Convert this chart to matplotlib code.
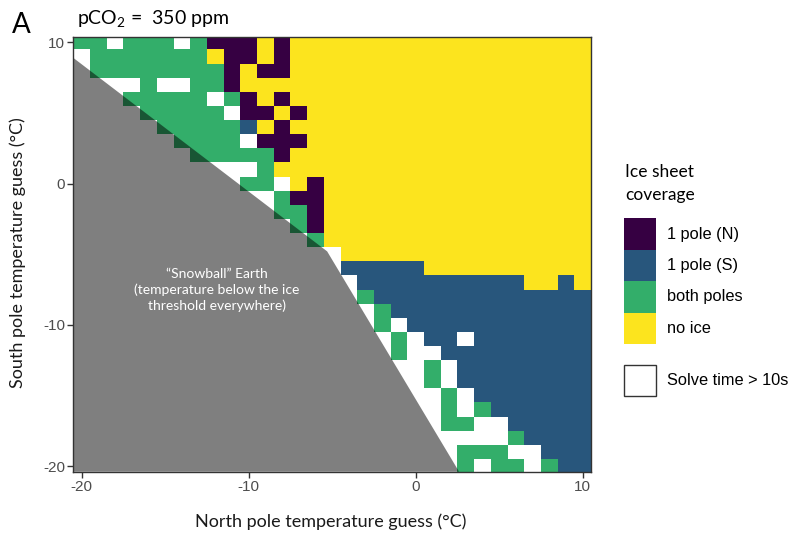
import matplotlib
matplotlib.use("Agg")
import matplotlib.pyplot as plt
import numpy as np
from matplotlib.colors import ListedColormap, BoundaryNorm
from matplotlib.patches import Rectangle

plt.rcParams['mathtext.fontset'] = 'custom'
plt.rcParams['mathtext.rm'] = 'Lato'
plt.rcParams['mathtext.default'] = 'regular'
plt.rcParams['axes.unicode_minus'] = False

# ---------------- data ----------------
north_temps = list(range(-20, 11))          # x: North pole temperature guess
south_temps = list(range(10, -21, -1))      # y: South pole temperature guess (rows, top to bottom)

# N = 1 pole (N), S = 1 pole (S), B = both poles, Y = no ice,
# W = solve time > 10s, . = no result (snowball region)
grid_rows = [
    "BBWBB BWBNN NYNYY YYYYY YYYYY YYYYY Y",  # 10
    "WBBBB BBBYN NYNYY YYYYY YYYYY YYYYY Y",  # 9
    ".BBBB BBBBN YNNYY YYYYY YYYYY YYYYY Y",  # 8
    ".WWWB WWBBN YYYYY YYYYY YYYYY YYYYY Y",  # 7
    "...BB BBBWB NYNYY YYYYY YYYYY YYYYY Y",  # 6
    "....B BBBBW NNYNY YYYYY YYYYY YYYYY Y",  # 5
    "..... BBBBB SYNYY YYYYY YYYYY YYYYY Y",  # 4
    "..... .BBBB WNNNY YYYYY YYYYY YYYYY Y",  # 3
    "..... ..BBB BBNYY YYYYY YYYYY YYYYY Y",  # 2
    "..... ...WW WBYYY YYYYY YYYYY YYYYY Y",  # 1
    "..... ....W BBWYN YYYYY YYYYY YYYYY Y",  # 0
    "..... ..... WWBNN YYYYY YYYYY YYYYY Y",  # -1
    "..... ..... ..BBN YYYYY YYYYY YYYYY Y",  # -2
    "..... ..... ...BN YYYYY YYYYY YYYYY Y",  # -3
    "..... ..... ....B YYYYY YYYYY YYYYY Y",  # -4
    "..... ..... ..... WYYYY YYYYY YYYYY Y",  # -5
    "..... ..... ..... WSSSS SYYYY YYYYY Y",  # -6
    "..... ..... ..... .WSSS SSSSS SSYYS Y",  # -7
    "..... ..... ..... .WBSS SSSSS SSSSS S",  # -8
    "..... ..... ..... ..WBS SSSSS SSSSS S",  # -9
    "..... ..... ..... ..WBW SSSSS SSSSS S",  # -10
    "..... ..... ..... ...WB WSSWS SSSSS S",  # -11
    "..... ..... ..... ...WB WWSSS SSSSS S",  # -12
    "..... ..... ..... ....W WBWSS SSSSS S",  # -13
    "..... ..... ..... ..... WBWSS SSSSS S",  # -14
    "..... ..... ..... ..... .WBWS SSSSS S",  # -15
    "..... ..... ..... ..... .WBWB SSSSS S",  # -16
    "..... ..... ..... ..... .WBBW WSSSS S",  # -17
    "..... ..... ..... ..... ..WWW WBSSS S",  # -18
    "..... ..... ..... ..... ..WBB BWWSS S",  # -19
    "..... ..... ..... ..... ..WBW BBWBS S",  # -20
]

category_codes = ["N", "S", "B", "Y"]
category_labels = ["1 pole (N)", "1 pole (S)", "both poles", "no ice"]
category_colors = ["#360042", "#28567c", "#33ae6a", "#fce41e"]

# Snowball Earth region boundary (temperature below ice threshold everywhere)
snowball_x = [-20.5, -5.3, 2.6, -20.5]
snowball_y = [8.9, -4.8, -20.4, -20.4]

x_ticks = [-20, -10, 0, 10]
y_ticks = [-20, -10, 0, 10]

# ---------------- build matrix ----------------
rows = [r.replace(" ", "") for r in grid_rows]
Z = np.full((len(south_temps), len(north_temps)), np.nan)
for i, r in enumerate(rows):
    for j, ch in enumerate(r[:len(north_temps)]):
        if ch in category_codes:
            Z[i, j] = category_codes.index(ch)
Zm = np.ma.masked_invalid(Z)

xt = np.array(north_temps, dtype=float)
yt = np.array(south_temps, dtype=float)
x_edges = np.append(xt - 0.5, xt[-1] + 0.5)
y_edges = np.append(yt + 0.5, yt[-1] - 0.5)

W, H = 790, 536
fig = plt.figure(figsize=(W / 100, H / 100), dpi=100)

def fx(px):
    return px / W

def fy(py):
    return 1 - py / H

ax_l, ax_r, ax_t, ax_b = 73.3, 591.0, 36.7, 471.7
ax = fig.add_axes([fx(ax_l), fy(ax_b), fx(ax_r - ax_l), (ax_b - ax_t) / H])

cmap = ListedColormap(category_colors)
norm = BoundaryNorm([-0.5, 0.5, 1.5, 2.5, 3.5], cmap.N)
ax.pcolormesh(x_edges, y_edges, Zm, cmap=cmap, norm=norm, edgecolors='none',
              antialiased=False, zorder=1)

ax.fill(snowball_x, snowball_y, color='black', alpha=0.5, linewidth=0, zorder=2)

ax.set_xlim(-20.5, 10.5)
ax.set_ylim(-20.4, 10.4)
ax.set_xticks(x_ticks)
ax.set_yticks(y_ticks)
ax.tick_params(axis='both', length=4, width=1, color='#333333',
               labelcolor='#4d4d4d', labelsize=11, pad=2)
for lab in ax.get_xticklabels() + ax.get_yticklabels():
    lab.set_fontfamily('Liberation Sans')
for s in ax.spines.values():
    s.set_color('#333333')
    s.set_linewidth(1.0)
    s.set_zorder(5)

# axis labels
fig.text(fx(331), fy(522), "North pole temperature guess (°C)", ha='center', va='center',
         fontsize=13, family='Lato', color='#1a1a1a')
fig.text(fx(18), fy(253), "South pole temperature guess (°C)", ha='center', va='center',
         rotation=90, fontsize=13, family='Lato', color='#1a1a1a')

# panel letter and title
fig.text(fx(12), fy(25), "A", ha='left', va='center', fontsize=20, family='Lato', color='black')
fig.text(fx(77), fy(24), "pCO$_2$ =  350 ppm", ha='left', va='baseline', fontsize=14,
         family='Lato', color='black')

# snowball annotation
for txt, py in [("\u201cSnowball\u201d Earth", 274),
                ("(temperature below the ice", 290),
                ("threshold everywhere)", 306)]:
    fig.text(fx(217), fy(py), txt, ha='center', va='center', fontsize=10,
             family='Lato', color='white')

# legend
fig.text(fx(625), fy(172), "Ice sheet", ha='left', va='center', fontsize=12.5,
         family='Lato', color='black')
fig.text(fx(625), fy(195), "coverage", ha='left', va='center', fontsize=12.5,
         family='Lato', color='black')
key_l, key_w, key_top, key_h = 624.3, 31.4, 218.3, 31.4
for k, (lab, col) in enumerate(zip(category_labels, category_colors)):
    top = key_top + k * key_h
    fig.add_artist(Rectangle((fx(key_l), fy(top + key_h)), key_w / W, key_h / H,
                             transform=fig.transFigure, facecolor=col, edgecolor='none'))
    fig.text(fx(667), fy(top + key_h / 2), lab, ha='left', va='center', fontsize=11.8,
             family='Liberation Sans', color='black')

box_top = 365
fig.add_artist(Rectangle((fx(key_l), fy(box_top + key_h)), key_w / W, key_h / H,
                         transform=fig.transFigure, facecolor='white', edgecolor='#333333',
                         linewidth=1.0))
fig.text(fx(667), fy(box_top + key_h / 2), "Solve time > 10s", ha='left', va='center',
         fontsize=11.8, family='Liberation Sans', color='black')

fig.savefig("out.png", dpi=100)
